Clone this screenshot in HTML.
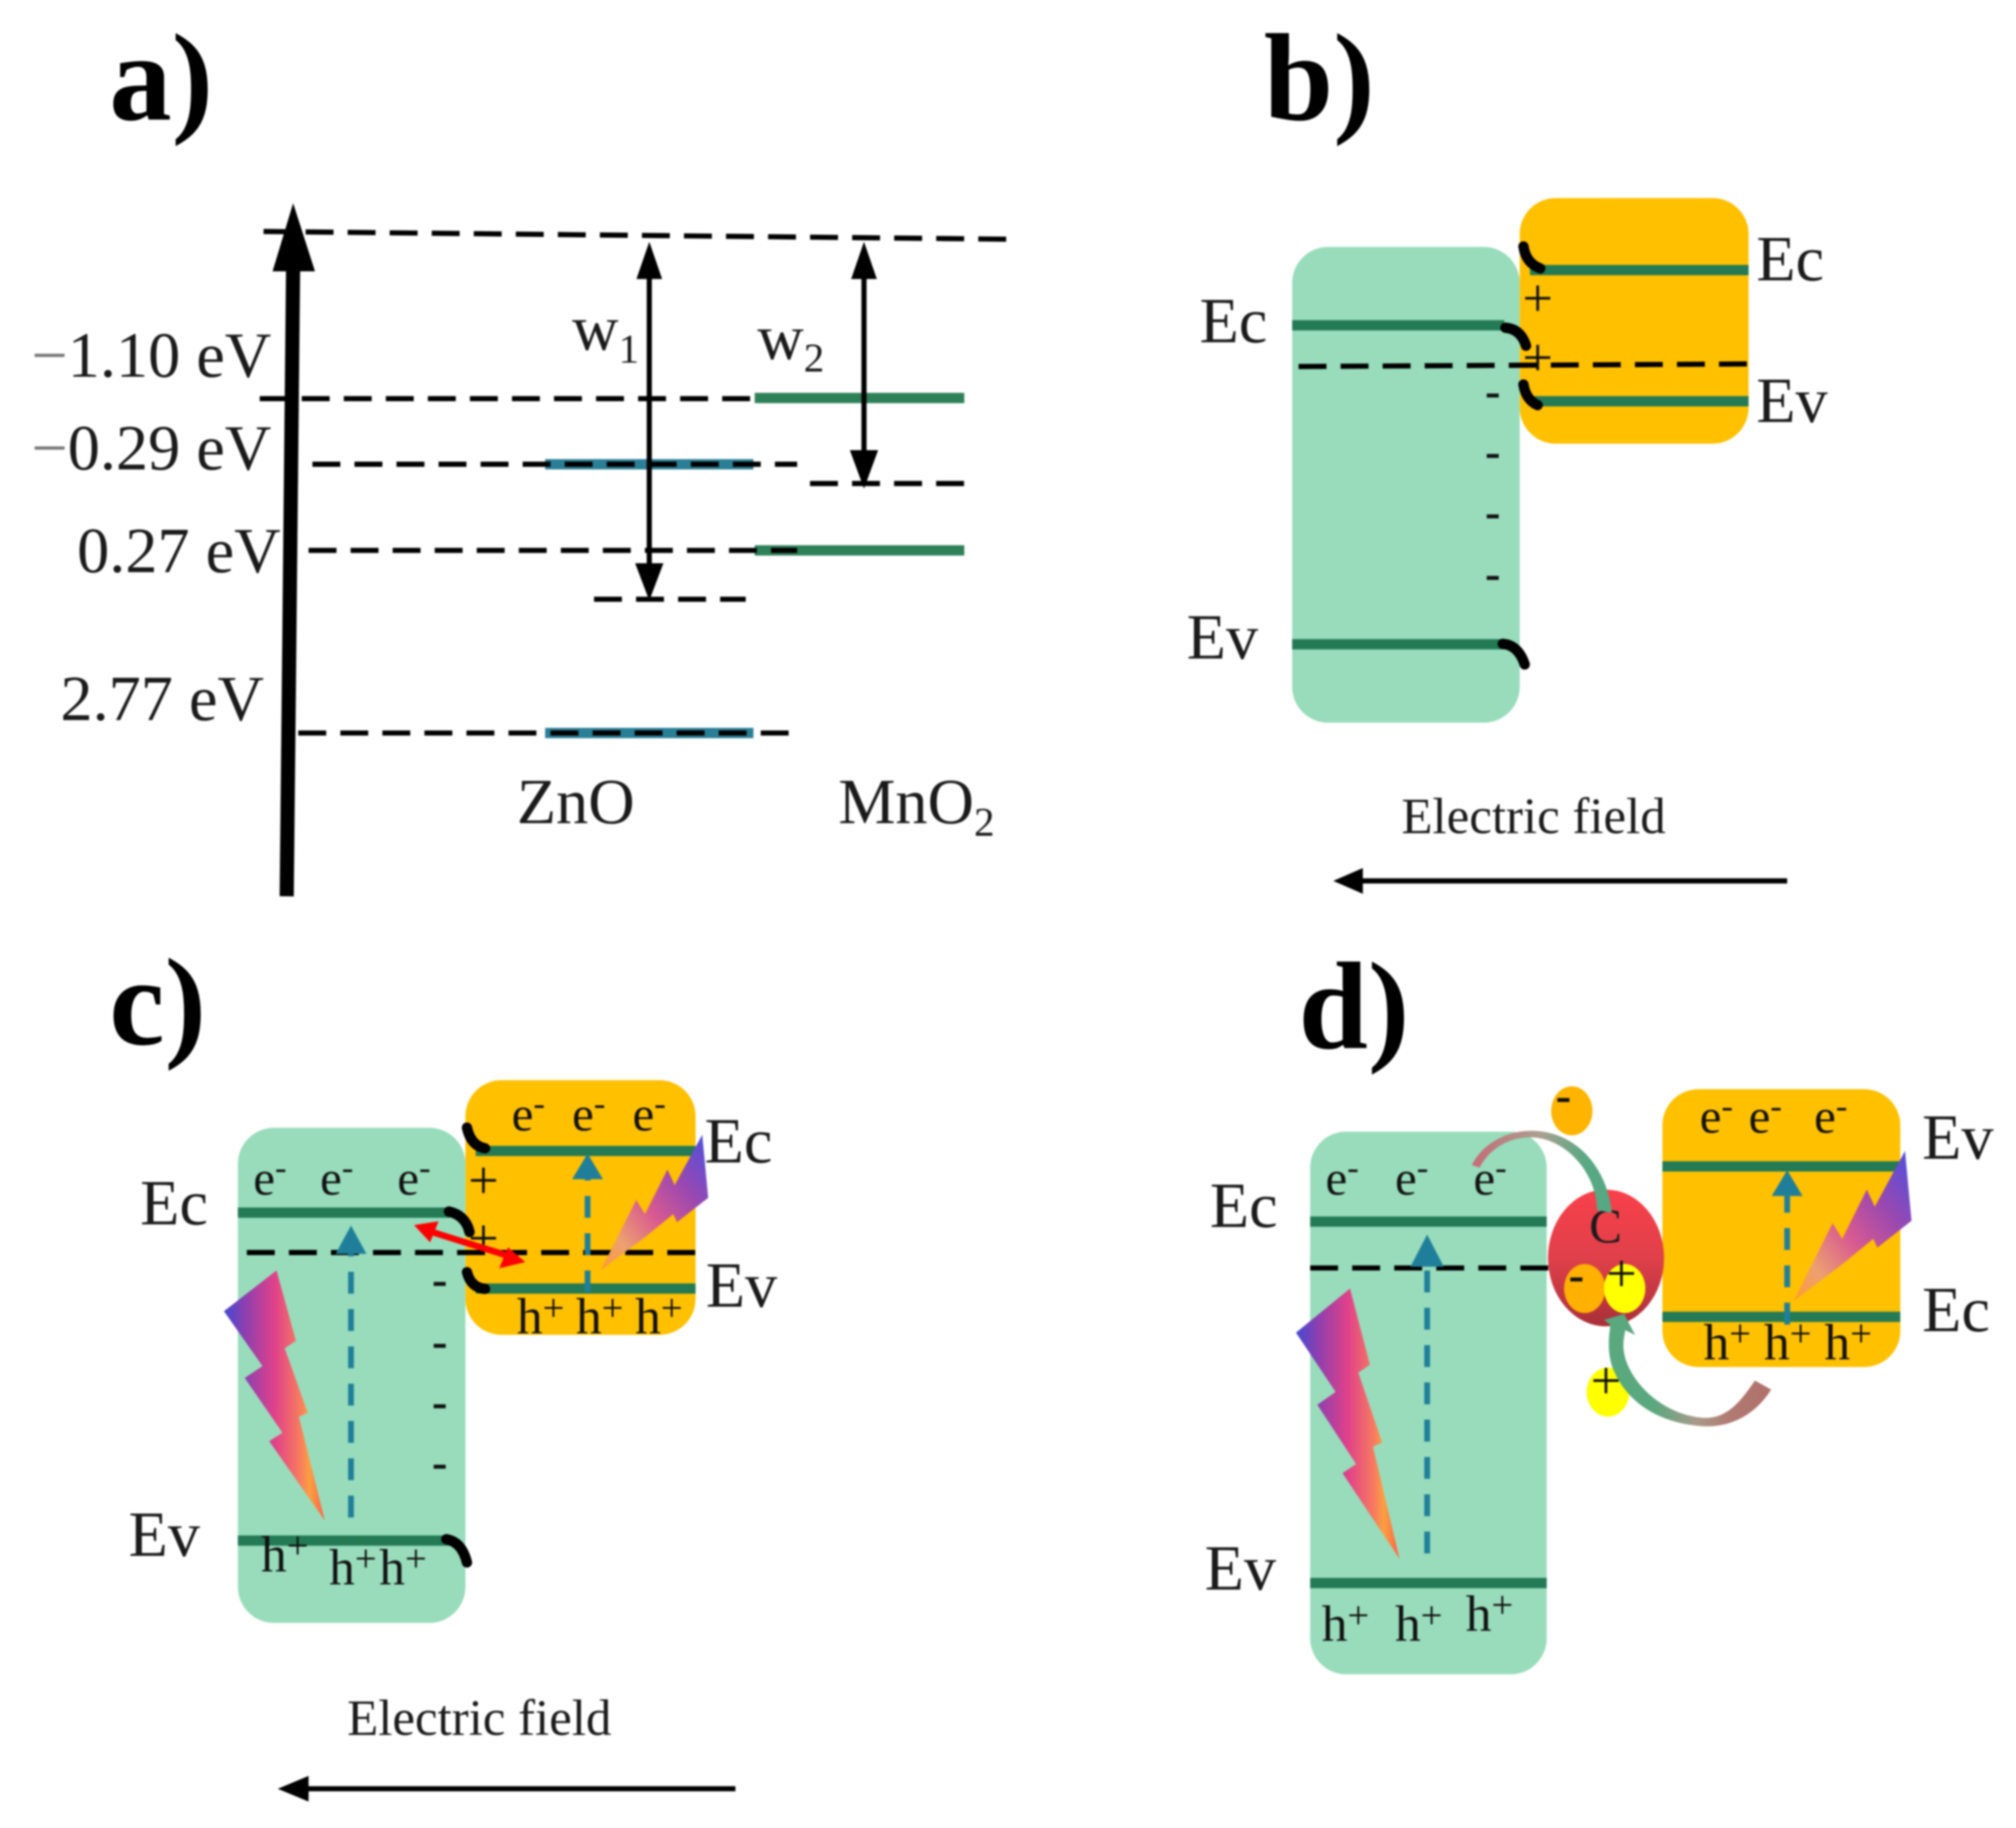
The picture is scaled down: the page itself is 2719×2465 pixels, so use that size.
<!DOCTYPE html>
<html><head><meta charset="utf-8"><style>
html,body{margin:0;padding:0;background:#fff}
svg{display:block;width:2719px;height:2465px;filter:blur(1.2px)}
text{font-family:"Liberation Serif",serif;fill:#1a1a1a}
.h{font-size:97px;font-weight:bold;fill:#000}
.l{font-size:50px}
.e{font-size:39.6px}
.c{font-size:38px;fill:#111}
.p{font-size:40px;fill:#111}
.sup{font-size:27px}
.sup2{font-size:30px}
.m{font-size:36px;text-anchor:middle;fill:#111;font-weight:bold}
.pl{font-size:42px;text-anchor:middle;fill:#111}
.d{stroke:#000;stroke-width:4;stroke-dasharray:21.7 11;fill:none}
.bar{stroke:#237a55;stroke-width:8;fill:none}
.t{stroke:#000;stroke-width:8;fill:none;stroke-linecap:round}
.b{stroke:#1f7f9a;stroke-width:4.5;stroke-dasharray:17 12;fill:none}
</style></head><body>
<svg xmlns="http://www.w3.org/2000/svg" viewBox="0 0 1568 1421.5">
<defs>
<linearGradient id="g1" x1="0" y1="0" x2="1" y2="0">
<stop offset="0" stop-color="#4349d2"/><stop offset=".2" stop-color="#8a3fb0"/><stop offset=".5" stop-color="#e0418a"/><stop offset=".75" stop-color="#f77a60"/><stop offset=".85" stop-color="#fca040"/><stop offset="1" stop-color="#ff5f4a"/>
</linearGradient>
<linearGradient id="g2" x1="1" y1="0" x2="0" y2="1">
<stop offset="0" stop-color="#4a50e0"/><stop offset=".3" stop-color="#9a48b0"/><stop offset=".55" stop-color="#d85a90"/><stop offset=".8" stop-color="#eda070"/><stop offset="1" stop-color="#ff9a30"/>
</linearGradient>
<linearGradient id="gr" x1="0" y1="0" x2="0" y2="1">
<stop offset="0" stop-color="#f8404a"/><stop offset=".5" stop-color="#e0404a"/><stop offset="1" stop-color="#a82f38"/>
</linearGradient>
<linearGradient id="a1" x1="0" y1="0" x2="1" y2="0">
<stop offset="0" stop-color="#c66a78"/><stop offset=".5" stop-color="#a8a090"/><stop offset=".8" stop-color="#5aa884"/><stop offset="1" stop-color="#55a882"/>
</linearGradient>
<linearGradient id="a2" x1="0" y1="0" x2="1" y2="0">
<stop offset="0" stop-color="#5aa87e"/><stop offset=".3" stop-color="#5aa87e"/><stop offset=".55" stop-color="#a89a8a"/><stop offset=".75" stop-color="#b07a72"/><stop offset="1" stop-color="#b0706a"/>
</linearGradient>
</defs>

<!-- a -->
<text class="h" x="85" y="93">a)</text>
<path d="M223 697 L228 205" stroke="#000" stroke-width="11"/>
<polygon points="228,158 245,211 212,211" fill="#000"/>
<path class="d" d="M205 180 L783 186"/>
<path d="M587 309.5H750M587 428H750" stroke="#2e8059" stroke-width="8"/>
<path d="M424 361H586M424 570H586" stroke="#2a7f96" stroke-width="8"/>
<path class="d" d="M202 310H585M243 361H620M240 428H620M462 466H580M630 376H750M232 570H615"/>
<path d="M505 210V445M672 210V355" stroke="#000" stroke-width="4"/>
<polygon points="505,188 515,217 495,217" fill="#000"/>
<polygon points="505,467 494,438 516,438" fill="#000"/>
<polygon points="672,188 682,217 662,217" fill="#000"/>
<polygon points="672,380 661,350 683,350" fill="#000"/>
<text class="l" x="211" y="293" text-anchor="end"><tspan fill="#777">−</tspan>1.10 eV</text>
<text class="l" x="211" y="365" text-anchor="end"><tspan fill="#777">−</tspan>0.29 eV</text>
<text class="l" x="60" y="445">0.27 eV</text>
<text class="l" x="47" y="560">2.77 eV</text>
<text class="l" x="402" y="640">ZnO</text>
<text class="l" x="652" y="640">MnO<tspan font-size="32" dy="10">2</tspan></text>
<text class="l" x="445" y="272">w<tspan font-size="32" dy="10">1</tspan></text>
<text class="l" x="589" y="279">w<tspan font-size="32" dy="10">2</tspan></text>

<!-- b -->
<text class="h" x="983" y="93">b)</text>
<rect x="1182" y="154" width="178" height="191" rx="28" fill="#ffc000"/>
<rect x="1005" y="192" width="177" height="370" rx="28" fill="#98dcbb"/>
<path class="bar" d="M1005 253H1170M1005 501H1170M1190 210H1360M1190 312H1360"/>
<g transform="scale(1.0033)"><path class="t" d="M1181 191Q1183 204 1194 208M1167 254Q1179 255 1183 268M1181 298Q1183 310 1192 314M1165 499Q1177 500 1182 515"/></g>
<text class="pl" x="1196" y="246">+</text>
<text class="pl" x="1196" y="292">+</text>
<path class="d" d="M1010 285L1360 283"/>
<text class="m" x="1161" y="316">-</text><text class="m" x="1161" y="363">-</text><text class="m" x="1161" y="410">-</text><text class="m" x="1161" y="458">-</text>
<text class="l" x="933" y="266">Ec</text>
<text class="l" x="923" y="512">Ev</text>
<text class="l" x="1366" y="218">Ec</text>
<text class="l" x="1366" y="328">Ev</text>
<text class="e" x="1090" y="648">Electric field</text>
<path d="M1390 685H1058" stroke="#000" stroke-width="4"/>
<polygon points="1037,685 1060,675 1060,695" fill="#000"/>

<!-- c -->
<text class="h" x="85" y="812">c)</text>
<rect x="362" y="840" width="179" height="198" rx="28" fill="#ffc000"/>
<rect x="185" y="877" width="177" height="385" rx="28" fill="#98dcbb"/>
<path class="bar" d="M185 943H350M185 1198H352M370 895H541M370 1002H541"/>
<g transform="scale(1.0033)"><path class="t" d="M362 874Q365 888 376 890M348 939Q361 942 364 955M362 986Q365 998 376 999M346 1193Q358 1195 362 1211"/></g>
<text class="pl" x="376" y="932">+</text>
<text class="pl" x="376" y="977">+</text>
<path class="d" d="M192 974H541"/>
<path class="b" d="M273 1180V975"/>
<polygon points="273,953 285,975 261,975" fill="#1f7f9a"/>
<path class="b" d="M457 1005V915"/>
<polygon points="457,897 469,917 445,917" fill="#1f7f9a"/>
<text class="m" x="342" y="1007">-</text><text class="m" x="342" y="1055">-</text><text class="m" x="342" y="1102">-</text><text class="m" x="342" y="1149">-</text>
<g transform="scale(1.0033)">
<polygon fill="url(#g1)" points="214.4,984.7 229.4,1039.3 220.7,1045 238.6,1095 231.7,1098 251.8,1178.5 208.7,1117 219,1110.5 189.7,1068 203.5,1058.8 173.6,1016.3"/>
<polygon fill="url(#g2)" points="544.4,879.5 549,928.4 524.8,947.3 522,941 500,958.9 465.6,984.7 493.2,930 500,941 517.4,906.5 523,918.6"/>
<path d="M332 954L396 974" stroke="#f00" stroke-width="5"/>
<polygon points="321,949.5 340,946.6 333.4,962.9" fill="#f00"/>
<polygon points="407.2,978.2 393.8,966.7 387,983" fill="#f00"/>
</g>
<text class="c" x="197" y="929">e<tspan class="sup" dy="-12">-</tspan></text>
<text class="c" x="249" y="929">e<tspan class="sup" dy="-12">-</tspan></text>
<text class="c" x="309" y="929">e<tspan class="sup" dy="-12">-</tspan></text>
<text class="c" x="398" y="879">e<tspan class="sup" dy="-12">-</tspan></text>
<text class="c" x="445" y="879">e<tspan class="sup" dy="-12">-</tspan></text>
<text class="c" x="492" y="879">e<tspan class="sup" dy="-12">-</tspan></text>
<text class="p" x="402" y="1037">h<tspan class="sup2" dy="-10">+</tspan></text>
<text class="p" x="448" y="1037">h<tspan class="sup2" dy="-10">+</tspan></text>
<text class="p" x="494" y="1037">h<tspan class="sup2" dy="-10">+</tspan></text>
<text class="p" x="203" y="1222">h<tspan class="sup2" dy="-10">+</tspan></text>
<text class="p" x="256" y="1232">h<tspan class="sup2" dy="-10">+</tspan></text>
<text class="p" x="295" y="1232">h<tspan class="sup2" dy="-10">+</tspan></text>
<text class="l" x="109" y="952">Ec</text>
<text class="l" x="100" y="1210">Ev</text>
<text class="l" x="548" y="904">Ec</text>
<text class="l" x="549" y="1016">Ev</text>
<text class="e" x="270" y="1349">Electric field</text>
<path d="M572 1391H238" stroke="#000" stroke-width="4"/>
<polygon points="216,1391 240,1381 240,1401" fill="#000"/>

<!-- d -->
<text class="h" x="1010" y="815">d)</text>
<rect x="1293" y="847" width="185" height="216" rx="28" fill="#ffc000"/>
<rect x="1019" y="880" width="184" height="422" rx="28" fill="#98dcbb"/>
<path class="bar" d="M1019 950H1203M1019 1231H1203M1293 907H1478M1293 1024H1478"/>
<path class="d" d="M1019 986H1205"/>
<path class="b" d="M1110 1208V985"/>
<polygon points="1110,960 1123,985 1097,985" fill="#1f7f9a"/>
<path class="b" d="M1390 1030V930"/>
<polygon points="1390,910 1402,930 1378,930" fill="#1f7f9a"/>
<g transform="translate(1008,1002) scale(1.03,1.085) translate(-173.6,-984.7)">
<polygon fill="url(#g1)" points="214.4,984.7 229.4,1039.3 220.7,1045 238.6,1095 231.7,1098 251.8,1178.5 208.7,1117 219,1110.5 189.7,1068 203.5,1058.8 173.6,1016.3"/>
</g>
<g transform="translate(1395,895) scale(1.1,1.11) translate(-465.6,-879.5)">
<polygon fill="url(#g2)" points="544.4,879.5 549,928.4 524.8,947.3 522,941 500,958.9 465.6,984.7 493.2,930 500,941 517.4,906.5 523,918.6"/>
</g>
<g transform="scale(1.0033)">
<ellipse cx="1245" cy="975" rx="45" ry="53" fill="url(#gr)"/>
<text x="1232" y="963" font-size="38" fill="#000">C</text>
<ellipse cx="1228.5" cy="998.7" rx="16" ry="19" fill="#ffb000"/>
<ellipse cx="1259.5" cy="998.7" rx="16" ry="19" fill="#ffff00"/>
<ellipse cx="1218.5" cy="861" rx="16" ry="19" fill="#ffb400"/>
<ellipse cx="1246.5" cy="1079" rx="16.5" ry="19" fill="#ffff00"/>
<path fill="url(#a1)" d="M1141 903C1150 885 1170 876 1188 876.5C1222 877 1246 905 1249.5 940L1238 938C1238 910 1215 883 1188 881.5C1170 881 1155 890 1147 905Z"/>
<path fill="url(#a2)" d="M1373 1077C1360 1098 1340 1106 1322 1105.5C1290 1104 1262 1090 1250 1060C1246 1048 1247 1037 1248.4 1027L1243.6 1023L1259 1018.4L1267.6 1034.7L1260 1031C1258 1040 1258 1045 1260 1053C1268 1078 1295 1098 1322 1099C1340 1099 1350 1085 1360.5 1070Z"/>
<text class="m" x="1212" y="861">-</text>
<text class="m" x="1222" y="1000">-</text>
<text class="pl" x="1257" y="1001">+</text>
<text class="pl" x="1245" y="1084" font-size="44">+</text>
</g>
<text class="c" x="1031" y="929">e<tspan class="sup" dy="-12">-</tspan></text>
<text class="c" x="1085" y="929">e<tspan class="sup" dy="-12">-</tspan></text>
<text class="c" x="1146" y="929">e<tspan class="sup" dy="-12">-</tspan></text>
<text class="c" x="1322" y="881">e<tspan class="sup" dy="-12">-</tspan></text>
<text class="c" x="1360" y="881">e<tspan class="sup" dy="-12">-</tspan></text>
<text class="c" x="1411" y="881">e<tspan class="sup" dy="-12">-</tspan></text>
<text class="p" x="1028" y="1276">h<tspan class="sup2" dy="-10">+</tspan></text>
<text class="p" x="1085" y="1276">h<tspan class="sup2" dy="-10">+</tspan></text>
<text class="p" x="1140" y="1268">h<tspan class="sup2" dy="-10">+</tspan></text>
<text class="p" x="1325" y="1057">h<tspan class="sup2" dy="-10">+</tspan></text>
<text class="p" x="1372" y="1057">h<tspan class="sup2" dy="-10">+</tspan></text>
<text class="p" x="1419" y="1057">h<tspan class="sup2" dy="-10">+</tspan></text>
<text class="l" x="941" y="954">Ec</text>
<text class="l" x="937" y="1236">Ev</text>
<text class="l" x="1495" y="901">Ev</text>
<text class="l" x="1495" y="1035">Ec</text>
</svg>
</body></html>
